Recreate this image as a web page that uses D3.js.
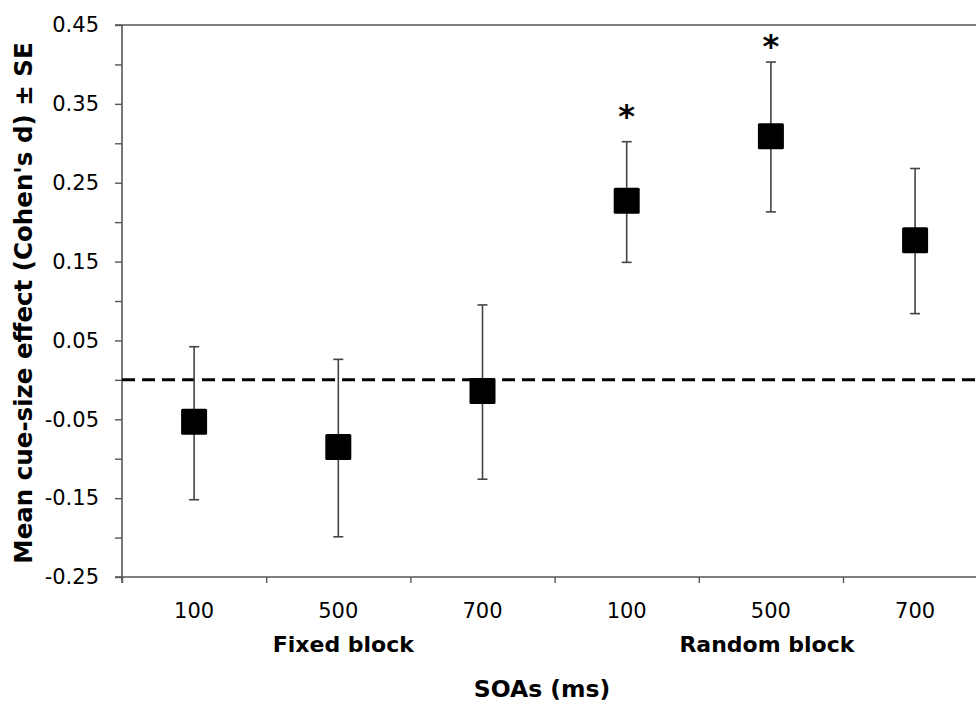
<!DOCTYPE html>
<html>
<head>
<meta charset="utf-8">
<script src="https://cdn.jsdelivr.net/npm/d3@7"></script>
<style>
  body { margin: 0; background: #fff; }
  svg { display: block; font-family: "DejaVu Sans", Verdana, sans-serif; }
</style>
</head>
<body>
<div class="canvas"></div>
<script>
// data
const soas = ['100', '500', '700', '100', '500', '700'];
const blocks = ['Fixed block', 'Random block'];
const means = [-0.053, -0.085, -0.014, 0.227, 0.309, 0.177];
const upper = [0.042, 0.026, 0.095, 0.302, 0.403, 0.268];
const lower = [-0.152, -0.199, -0.126, 0.149, 0.213, 0.084];
// height of the significance asterisk (null = none)
const starAt = [null, null, null, 0.338, 0.427, null];
const yTicks = [-0.25, -0.2, -0.15, -0.1, -0.05, 0, 0.05, 0.1, 0.15, 0.2, 0.25, 0.3, 0.35, 0.4, 0.45];

const width = 976, height = 702;
const plotLeft = 122, plotTop = 25, plotBottom = 577;
const band = 144.2;

const svg = d3.select('.canvas').append('svg')
    .attr('width', width)
    .attr('height', height);

// scales
const x = d3.scaleBand().domain(d3.range(soas.length)).range([plotLeft, plotLeft + band * soas.length]).padding(0);
const xEdge = d3.scaleLinear().domain([0, soas.length]).range([plotLeft, plotLeft + band * soas.length]);
const y = d3.scaleLinear().domain([-0.25, 0.45]).range([plotBottom, plotTop]);

const axisColor = '#555';

// top border line
svg.append('line')
    .attr('x1', plotLeft - 7).attr('x2', width)
    .attr('y1', y(0.45)).attr('y2', y(0.45))
    .attr('stroke', axisColor).attr('stroke-width', 1.6);

// y axis - labels only on the odd hundredths, plain hyphen for negatives
const yAxis = d3.axisLeft(y)
    .tickValues(yTicks)
    .tickSize(7)
    .tickPadding(16)
    .tickFormat(d => (Math.round(d * 100) % 10 === 0) ? '' : d.toFixed(2));
const yG = svg.append('g')
    .attr('transform', `translate(${plotLeft},0)`)
    .call(yAxis);
yG.select('.domain').remove();
yG.append('line')
    .attr('x1', 0).attr('x2', 0)
    .attr('y1', plotTop).attr('y2', plotBottom + 6)
    .attr('stroke', axisColor).attr('stroke-width', 1.6);
yG.selectAll('.tick line').attr('stroke', axisColor).attr('stroke-width', 1.4);
yG.selectAll('.tick text')
    .attr('font-size', 21)
    .attr('font-family', '"DejaVu Sans", Verdana, sans-serif')
    .attr('fill', '#000');

// x axis: ticks at category boundaries
const xAxis = d3.axisBottom(xEdge)
    .tickValues(d3.range(soas.length + 1))
    .tickSize(6)
    .tickFormat('');
const xG = svg.append('g')
    .attr('transform', `translate(0,${plotBottom})`)
    .call(xAxis);
xG.select('.domain').remove();
xG.append('line')
    .attr('x1', plotLeft - 7).attr('x2', width)
    .attr('y1', 0).attr('y2', 0)
    .attr('stroke', axisColor).attr('stroke-width', 1.6);
xG.selectAll('.tick line').attr('stroke', axisColor).attr('stroke-width', 1.4);

// category labels
svg.selectAll('.soa')
    .data(soas)
    .enter().append('text')
    .attr('class', 'soa')
    .attr('x', (d, i) => x(i) + x.bandwidth() / 2)
    .attr('y', 618)
    .attr('text-anchor', 'middle')
    .attr('font-size', 21)
    .text(d => d);

svg.selectAll('.block')
    .data(blocks)
    .enter().append('text')
    .attr('class', 'block')
    .attr('x', (d, i) => x(i * 3 + 1) + x.bandwidth() / 2 + (i ? -4 : 5))
    .attr('y', 652)
    .attr('text-anchor', 'middle')
    .attr('font-size', 22)
    .attr('font-weight', 'bold')
    .text(d => d);

// axis titles
svg.append('text')
    .attr('x', 542).attr('y', 697)
    .attr('text-anchor', 'middle')
    .attr('font-size', 23.5)
    .attr('font-weight', 'bold')
    .text('SOAs (ms)');

svg.append('text')
    .attr('transform', 'translate(32,303) rotate(-90)')
    .attr('text-anchor', 'middle')
    .attr('font-size', 24.5)
    .attr('font-weight', 'bold')
    .text('Mean cue-size effect (Cohen\'s d) ± SE');

// zero reference line
svg.append('line')
    .attr('x1', plotLeft).attr('x2', width)
    .attr('y1', y(0)).attr('y2', y(0))
    .attr('stroke', '#000')
    .attr('stroke-width', 3)
    .attr('stroke-dasharray', '13,7');

// error bars
const cx = i => x(i) + x.bandwidth() / 2;
const bars = svg.selectAll('.err')
    .data(means)
    .enter().append('g')
    .attr('class', 'err')
    .attr('stroke', '#444')
    .attr('stroke-width', 1.6);
bars.append('line')
    .attr('x1', (d, i) => cx(i)).attr('x2', (d, i) => cx(i))
    .attr('y1', (d, i) => y(upper[i])).attr('y2', (d, i) => y(lower[i]));
bars.append('line')
    .attr('x1', (d, i) => cx(i) - 5).attr('x2', (d, i) => cx(i) + 5)
    .attr('y1', (d, i) => y(upper[i])).attr('y2', (d, i) => y(upper[i]));
bars.append('line')
    .attr('x1', (d, i) => cx(i) - 5).attr('x2', (d, i) => cx(i) + 5)
    .attr('y1', (d, i) => y(lower[i])).attr('y2', (d, i) => y(lower[i]));

// square markers
const sz = 26;
svg.selectAll('.pt')
    .data(means)
    .enter().append('rect')
    .attr('class', 'pt')
    .attr('x', (d, i) => cx(i) - sz / 2)
    .attr('y', d => y(d) - sz / 2)
    .attr('width', sz).attr('height', sz)
    .attr('rx', 1.5)
    .attr('fill', '#000');

// significance stars (glyph centre sits ~14px above the baseline)
svg.selectAll('.star')
    .data(starAt.map((v, i) => ({ v, i })).filter(d => d.v !== null))
    .enter().append('text')
    .attr('class', 'star')
    .attr('x', d => cx(d.i))
    .attr('y', d => y(d.v) + 14)
    .attr('text-anchor', 'middle')
    .attr('font-size', 32)
    .attr('font-weight', 'bold')
    .text('*');
</script>
</body>
</html>
